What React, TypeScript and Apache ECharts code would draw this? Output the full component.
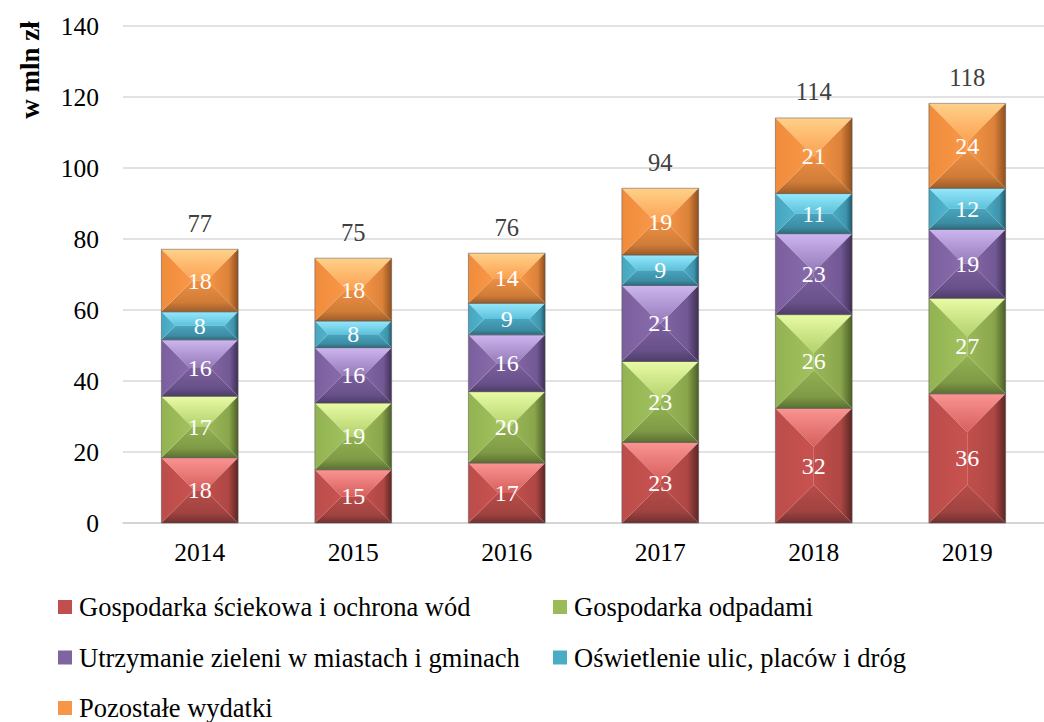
import React, { useEffect, useRef } from "react";
import * as echarts from "echarts";

const categories = ["2014", "2015", "2016", "2017", "2018", "2019"];
const seriesNames = [
  "Gospodarka ściekowa i ochrona wód",
  "Gospodarka odpadami",
  "Utrzymanie zieleni w miastach i gminach",
  "Oświetlenie ulic, placów i dróg",
  "Pozostałe wydatki",
];
const sciekowa = [18.4, 15.0, 16.9, 22.7, 32.3, 36.4];
const odpady = [17.3, 18.8, 20.1, 22.8, 26.4, 26.9];
const zielen = [15.9, 15.6, 16.0, 21.4, 22.8, 19.4];
const oswietlenie = [7.9, 7.5, 8.9, 8.6, 11.3, 11.6];
const pozostale = [17.6, 17.7, 14.1, 18.8, 21.3, 23.9];
const yTicks = { min: 0, max: 140, interval: 20 };

const FAMILY = "Liberation Serif";

type Pal = { base: string; top: string[]; left: string[]; right: string[]; bottom: string[] };
const palettes: Pal[] = [
  { base: "#c0504d", top: ["#fa9492", "#d65f5c"], left: ["#bb4d4a", "#c9524f"], right: ["#c24f4c", "#ae4744", "#5c2624"], bottom: ["#b84c49", "#a04340", "#703030"] },
  { base: "#9bbb59", top: ["#e8fba5", "#b2d16b"], left: ["#93b352", "#a2c25f"], right: ["#9ab95a", "#8aa64b", "#4c5f28"], bottom: ["#93b153", "#7f9a45", "#5a7032"] },
  { base: "#8064a2", top: ["#cdb6f0", "#9579b8"], left: ["#7b5f9d", "#896bac"], right: ["#8366a5", "#725895", "#3f3055"], bottom: ["#7b5f9d", "#68518a", "#4e3d68"] },
  { base: "#4bacc6", top: ["#95e8fb", "#5cc1db"], left: ["#46a6c0", "#52b4ce"], right: ["#4cadc7", "#3e93ab", "#1e5a6c"], bottom: ["#47a4bd", "#3c8ca3", "#2c6a7c"] },
  { base: "#f79646", top: ["#ffd189", "#fba152"], left: ["#f08c3c", "#f89848"], right: ["#f79646", "#dc823a", "#8f501e"], bottom: ["#ee9044", "#cf7c38", "#9e5c28"] },
];

const allSeries = [sciekowa, odpady, zielen, oswietlenie, pozostale];

function grad(x2: number, y2: number, c: string[]) {
  const stops =
    c.length === 2
      ? [
          { offset: 0, color: c[0] },
          { offset: 1, color: c[1] },
        ]
      : [
          { offset: 0, color: c[0] },
          { offset: 0.7, color: c[1] },
          { offset: 1, color: c[2] },
        ];
  return new echarts.graphic.LinearGradient(0, 0, x2, y2, stops);
}

export default function App() {
  const ref = useRef<HTMLDivElement>(null);
  useEffect(() => {
    document.body.style.margin = "0";
    if (!ref.current) return;
    const chart = echarts.init(ref.current, undefined, { renderer: "svg" });

    const bases = allSeries.map((_, s) =>
      categories.map((__, i) => {
        let b = 0;
        for (let k = 0; k < s; k++) b += allSeries[k][i];
        return b;
      })
    );
    const totals = categories.map((_, i) => allSeries.reduce((a, arr) => a + arr[i], 0));

    const segSeries = allSeries.map((vals, s) => {
      const pal = palettes[s];
      return {
        type: "custom",
        name: seriesNames[s],
        itemStyle: { color: pal.base },
        encode: { x: 0, y: 1 },
        data: vals.map((v, i) => [i, v, bases[s][i]]),
        renderItem: (params: any, api: any) => {
          const x = api.value(0);
          const v = api.value(1);
          const b = api.value(2);
          const p0 = api.coord([x, b]);
          const p1 = api.coord([x, b + v]);
          const w = api.size([1, 0])[0] * 0.5;
          const L = p0[0] - w / 2;
          const R = p0[0] + w / 2;
          const T = p1[1];
          const B = p0[1];
          const h = B - T;
          const d = Math.min(w, h) / 2;
          return {
            type: "group",
            children: [
              { type: "polygon", shape: { points: [[L, T], [R, T], [R - d, T + d], [L + d, T + d]] }, style: { fill: grad(0, 1, pal.top) } },
              { type: "polygon", shape: { points: [[R, T], [R, B], [R - d, B - d], [R - d, T + d]] }, style: { fill: grad(1, 0, pal.right) } },
              { type: "polygon", shape: { points: [[R, B], [L, B], [L + d, B - d], [R - d, B - d]] }, style: { fill: grad(0, 1, pal.bottom) } },
              { type: "polygon", shape: { points: [[L, B], [L, T], [L + d, T + d], [L + d, B - d]] }, style: { fill: grad(1, 0, pal.left) } },
              { type: "rect", shape: { x: L, y: T, width: w, height: h }, style: { fill: "none", stroke: "rgba(80,80,80,0.5)", lineWidth: 1 } },
              {
                type: "text",
                x: p0[0],
                y: (T + B) / 2,
                style: { text: String(Math.round(v)), fill: "#ffffff", fontSize: 24, fontFamily: FAMILY, align: "center", verticalAlign: "middle" },
              },
            ],
          };
        },
      };
    });

    const totalSeries = {
      type: "custom",
      name: "Razem",
      encode: { x: 0, y: 1 },
      data: totals.map((t, i) => [i, t]),
      renderItem: (params: any, api: any) => {
        const p = api.coord([api.value(0), api.value(1)]);
        return {
          type: "text",
          x: p[0],
          y: p[1] - 26,
          style: { text: String(Math.round(api.value(1))), fill: "#404040", fontSize: 24.5, fontFamily: FAMILY, align: "center", verticalAlign: "middle" },
        };
      },
    };

    const legendText = { fontSize: 26.5, fontFamily: FAMILY, color: "#000", lineHeight: 28, padding: [0, 0, 0, 2] };

    chart.setOption({
      animation: false,
      backgroundColor: "#ffffff",
      grid: { left: 123, top: 26, width: 936, height: 497 },
      xAxis: {
        type: "category",
        data: categories,
        boundaryGap: true,
        axisLine: { show: true, lineStyle: { color: "#d0d0d0", width: 1.5 } },
        axisTick: { show: false },
        axisLabel: { fontSize: 25.5, fontFamily: FAMILY, color: "#000", margin: 16 },
      },
      yAxis: {
        type: "value",
        min: yTicks.min,
        max: yTicks.max,
        interval: yTicks.interval,
        axisLine: { show: false },
        axisTick: { show: false },
        axisLabel: { fontSize: 25.5, fontFamily: FAMILY, color: "#000", margin: 24 },
        splitLine: { lineStyle: { color: "#d9d9d9", width: 1.5 } },
      },
      legend: [
        {
          data: [seriesNames[0], seriesNames[2], seriesNames[4]],
          orient: "vertical",
          left: 58,
          top: 593,
          padding: 0,
          itemGap: 22.5,
          itemWidth: 14,
          itemHeight: 14,
          icon: "rect",
          selectedMode: false,
          textStyle: legendText,
        },
        {
          data: [seriesNames[1], seriesNames[3]],
          orient: "vertical",
          left: 553,
          top: 593,
          padding: 0,
          itemGap: 22.5,
          itemWidth: 14,
          itemHeight: 14,
          icon: "rect",
          selectedMode: false,
          textStyle: legendText,
        },
      ],
      graphic: [
        {
          type: "text",
          x: 30,
          y: 70,
          rotation: Math.PI / 2,
          style: { text: "w mln zł", fill: "#000", fontSize: 27, fontWeight: "bold", fontFamily: FAMILY, align: "center", verticalAlign: "middle" },
        },
      ],
      series: [...segSeries, totalSeries],
    });
    return () => chart.dispose();
  }, []);
  return <div ref={ref} style={{ width: 1044, height: 722 }} />;
}
